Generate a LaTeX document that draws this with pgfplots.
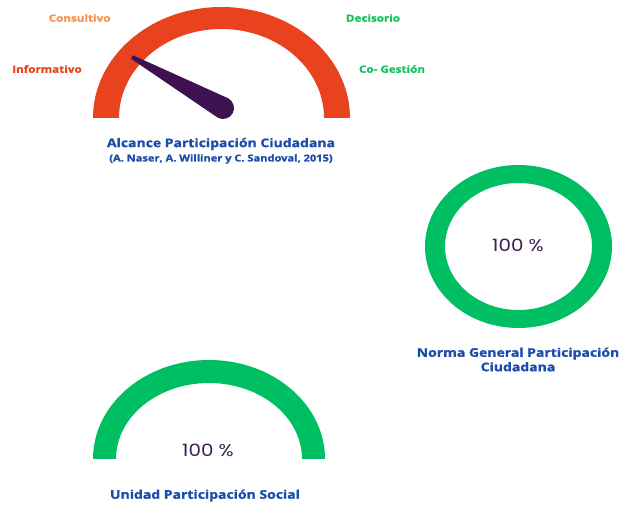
\documentclass[border=0pt]{standalone}
\usepackage{pgfplots}
\pgfplotsset{compat=1.18}
\usepackage{fontspec}
\setmainfont{Open Sans}[BoldFeatures={FakeBold=1.2}]
\newfontfamily\numfont{Poppins}
\definecolor{gred}{HTML}{E9421E}
\definecolor{gorange}{HTML}{F7924A}
\definecolor{ggreen}{HTML}{12C25F}
\definecolor{ringgreen}{HTML}{00BF63}
\definecolor{tblue}{HTML}{1C4DAA}
\definecolor{needle}{HTML}{3E1150}
\definecolor{numpurple}{HTML}{3D1E4F}
\begin{document}
\begin{tikzpicture}
\begin{axis}[scale only axis, width=625bp, height=506bp,
  xmin=0, xmax=625, ymin=0, ymax=506, hide axis, clip=false]
\path (axis cs:0,0) rectangle (axis cs:625,506);
% top gauge band
\fill[gred] (axis cs:93,388) arc[start angle=180,end angle=0,x radius=128.5bp,y radius=111bp]
  -- (axis cs:324,388) arc[start angle=0,end angle=180,x radius=102.5bp,y radius=89bp] -- cycle;
% needle
\fill[needle] (axis cs:131,447.3) -- (axis cs:133,450.7) -- (axis cs:228.4,407.6)
  arc[start angle=60.7,end angle=-119.3,radius=11bp] -- cycle;
% labels
\tikzset{lab/.style={xscale=1.17, font=\bfseries\fontsize{10}{12}\selectfont}}
\node[lab, text=gorange] at (axis cs:79.6,488) {Consultivo};
\node[lab, text=ggreen] at (axis cs:373,488) {Decisorio};
\node[lab, text=gred] at (axis cs:47,437) {Informativo};
\node[lab, text=ggreen] at (axis cs:392,437) {Co- Gestión};
\node[xscale=1.17, font=\bfseries\fontsize{12}{14}\selectfont, text=tblue] at (axis cs:221,362) {Alcance Participación Ciudadana};
\node[xscale=1.17, font=\bfseries\fontsize{9.5}{11}\selectfont, text=tblue] at (axis cs:221,347) {(A. Naser, A. Williner y C. Sandoval, 2015)};
% ring
\fill[ringgreen, even odd rule] (axis cs:518.5,259.5) ellipse[x radius=93.5bp,y radius=81.5bp]
  (axis cs:518.5,259.5) ellipse[x radius=73.5bp,y radius=63.5bp];
\node[xscale=1.17, font=\numfont\fontsize{17}{20}\selectfont, text=numpurple] at (axis cs:518,261) {100 \%};
\node[xscale=1.17, font=\bfseries\fontsize{12}{14.5}\selectfont, text=tblue, align=center] at (axis cs:518,146.5) {Norma General Participación\\Ciudadana};
% bottom gauge
\fill[ringgreen] (axis cs:93,47) arc[start angle=180,end angle=0,x radius=116bp,y radius=99bp]
  -- (axis cs:302,47) arc[start angle=0,end angle=180,x radius=93bp,y radius=76bp] -- cycle;
\node[xscale=1.17, font=\numfont\fontsize{17}{20}\selectfont, text=numpurple] at (axis cs:208,56) {100 \%};
\node[xscale=1.17, font=\bfseries\fontsize{12}{14}\selectfont, text=tblue] at (axis cs:205,10.4) {Unidad Participación Social};
\end{axis}
\end{tikzpicture}
\end{document}
